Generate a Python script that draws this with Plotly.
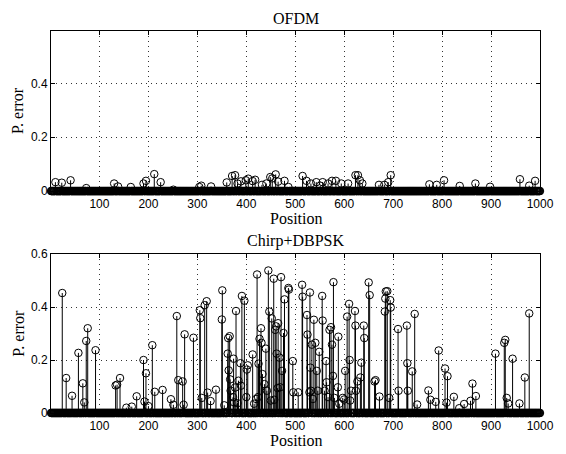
import numpy as np
import plotly.graph_objects as go
from plotly.subplots import make_subplots

# positions 1..1000, everything not listed sits on zero
n_pos = 1000

# OFDM: non-zero error probabilities (position, value)
ofdm_pos = [10, 23, 41, 73, 130, 138, 164, 190, 195, 212, 225, 251, 304, 308, 328,
            360, 371, 377, 382, 389, 399, 404, 413, 418, 432, 441, 449, 453, 460, 465,
            478, 486, 515, 523, 532, 543, 551, 556, 567, 575, 583, 594, 608, 623, 628,
            632, 637, 671, 682, 690, 695, 774, 789, 804, 836, 868, 898, 959, 978, 990]
ofdm_val = [0.033, 0.031, 0.040, 0.011, 0.028, 0.017, 0.015, 0.028, 0.038, 0.063, 0.033, 0.005, 0.015, 0.020, 0.017,
            0.032, 0.056, 0.059, 0.028, 0.036, 0.040, 0.046, 0.037, 0.042, 0.023, 0.028, 0.052, 0.047, 0.062, 0.035,
            0.038, 0.015, 0.056, 0.038, 0.028, 0.033, 0.020, 0.033, 0.028, 0.038, 0.038, 0.028, 0.028, 0.059, 0.059,
            0.040, 0.028, 0.023, 0.023, 0.033, 0.059, 0.025, 0.023, 0.040, 0.019, 0.028, 0.016, 0.044, 0.020, 0.038]

# Chirp+DBPSK: non-zero error probabilities
chirp_pos = [24, 32, 44, 57, 66, 69, 73, 76, 92, 133, 136, 142,
             155, 166, 176, 190, 192, 195, 200, 208, 213, 229, 246, 251, 258, 261, 270, 272, 274, 292,
             305, 306, 309, 315, 319, 321, 327, 338, 350, 351, 355, 362, 363, 364, 366, 367, 368, 373, 374,
             375, 377, 379, 382, 384, 388, 389, 391, 396, 400, 401, 403, 413, 416, 420, 422, 424, 425, 427,
             430, 431, 433, 437, 440, 442, 445, 447, 450, 452, 456, 457, 459, 461, 462, 464, 465, 468, 469,
             471, 473, 476, 478, 486, 487, 495, 496, 506, 514, 515, 524, 525, 529, 530, 531, 532, 534, 536,
             538, 541, 544, 546, 549, 555, 556, 560, 563, 564, 567, 570, 573, 575, 577, 578, 580, 587, 588,
             590, 597, 600, 602, 606, 610, 611, 612, 614, 622, 623, 624, 627, 633, 635, 640, 641, 650, 652,
             662, 664, 672, 683, 684, 685, 688, 692, 694, 695, 710, 711, 728, 729, 730, 739, 744, 749,
             772, 776, 787, 793, 806, 809, 811, 824, 835, 845, 858, 862, 869, 909, 927, 929, 932, 935,
             944, 958, 969, 978]
chirp_val = [0.453, 0.132, 0.065, 0.227, 0.112, 0.040, 0.272, 0.320, 0.237, 0.104, 0.107, 0.132,
             0.020, 0.024, 0.063, 0.200, 0.043, 0.150, 0.026, 0.256, 0.080, 0.087, 0.052, 0.031, 0.366, 0.124, 0.119, 0.031, 0.297, 0.284,
             0.388, 0.358, 0.057, 0.407, 0.422, 0.077, 0.045, 0.088, 0.353, 0.463, 0.029, 0.224, 0.283, 0.161, 0.290, 0.127, 0.084, 0.060, 0.205,
             0.040, 0.096, 0.385, 0.037, 0.122, 0.188, 0.103, 0.442, 0.424, 0.060, 0.164, 0.180, 0.221, 0.035, 0.053, 0.523, 0.060, 0.186, 0.280,
             0.320, 0.265, 0.147, 0.109, 0.243, 0.084, 0.538, 0.383, 0.047, 0.357, 0.507, 0.050, 0.314, 0.327, 0.224, 0.094, 0.339, 0.209, 0.097,
             0.513, 0.159, 0.302, 0.429, 0.472, 0.466, 0.196, 0.078, 0.078, 0.484, 0.439, 0.370, 0.296, 0.078, 0.455, 0.171, 0.084, 0.258, 0.053,
             0.352, 0.265, 0.159, 0.084, 0.231, 0.442, 0.349, 0.084, 0.196, 0.116, 0.060, 0.314, 0.324, 0.258, 0.140, 0.494, 0.057, 0.097, 0.288,
             0.035, 0.057, 0.051, 0.159, 0.364, 0.412, 0.200, 0.047, 0.084, 0.385, 0.330, 0.084, 0.119, 0.134, 0.190, 0.330, 0.283, 0.493, 0.445,
             0.119, 0.124, 0.062, 0.383, 0.432, 0.459, 0.460, 0.057, 0.426, 0.398, 0.317, 0.084, 0.330, 0.188, 0.084, 0.157, 0.374, 0.032,
             0.085, 0.050, 0.042, 0.236, 0.168, 0.039, 0.139, 0.061, 0.018, 0.034, 0.046, 0.111, 0.064, 0.224, 0.265, 0.276, 0.057, 0.036,
             0.205, 0.036, 0.134, 0.376]

x_ticks = [100, 200, 300, 400, 500, 600, 700, 800, 900, 1000]


def full_series(pos, val):
    y = np.zeros(n_pos)
    for p, v in zip(pos, val):
        y[p - 1] = v
    return np.arange(1, n_pos + 1), y


def stem_traces(pos, val):
    x, y = full_series(pos, val)
    sx, sy = [], []
    for xi, yi in zip(x, y):
        if yi > 0:
            sx += [xi, xi, None]
            sy += [0, yi, None]
    lines = go.Scatter(x=sx, y=sy, mode='lines', line=dict(color='black', width=1),
                       hoverinfo='skip', showlegend=False, cliponaxis=False)
    marks = go.Scatter(x=x, y=y, mode='markers',
                       marker=dict(symbol='circle-open', size=7.5, color='black', line=dict(width=1, color='black')),
                       showlegend=False, cliponaxis=False)
    return [lines, marks]


fig = make_subplots(rows=2, cols=1)
for t in stem_traces(ofdm_pos, ofdm_val):
    fig.add_trace(t, row=1, col=1)
for t in stem_traces(chirp_pos, chirp_val):
    fig.add_trace(t, row=2, col=1)

tick_font = dict(family='Liberation Sans, Arial, sans-serif', size=12, color='black')
serif = dict(family='Liberation Serif, Times New Roman, serif', size=16, color='black')

axis_common = dict(showline=True, linecolor='black', linewidth=1, mirror='allticks',
                   ticks='inside', ticklen=4, tickcolor='black', zeroline=False,
                   showgrid=True, gridcolor='#333333', gridwidth=1, griddash='1px,4px',
                   tickfont=tick_font)

fig.update_xaxes(range=[1, 1000], tickvals=x_ticks, ticklabelstandoff=2, **axis_common)
fig.update_yaxes(range=[0, 0.595], tickvals=[0, 0.2, 0.4], ticktext=['0', '0.2', '0.4'],
                 row=1, col=1, **axis_common)
fig.update_yaxes(range=[0, 0.6], tickvals=[0, 0.2, 0.4, 0.6], ticktext=['0', '0.2', '0.4', '0.6'],
                 row=2, col=1, **axis_common)
fig.update_xaxes(domain=[0, 1])
fig.update_yaxes(domain=[0.581, 1.0], row=1, col=1)
fig.update_yaxes(domain=[0.0, 0.416], row=2, col=1)

notes = [
    dict(text='OFDM', x=0.5, y=1.033),
    dict(text='Chirp+DBPSK', x=0.5, y=0.450),
    dict(text='Position', x=0.5, y=0.508),
    dict(text='Position', x=0.5, y=-0.073),
    dict(text='P. error', x=-0.067, y=0.791, textangle=-90),
    dict(text='P. error', x=-0.067, y=0.208, textangle=-90),
]
for a in notes:
    fig.add_annotation(xref='paper', yref='paper', xanchor='center', yanchor='middle',
                       showarrow=False, font=serif, **a)

# page body keeps its default 8px margin, so the figure is 8px smaller than the window
fig.update_layout(width=558, height=446, margin=dict(l=43, r=23, t=23, b=41),
                  plot_bgcolor='white', paper_bgcolor='white', showlegend=False)

fig.write_html("out.html")
